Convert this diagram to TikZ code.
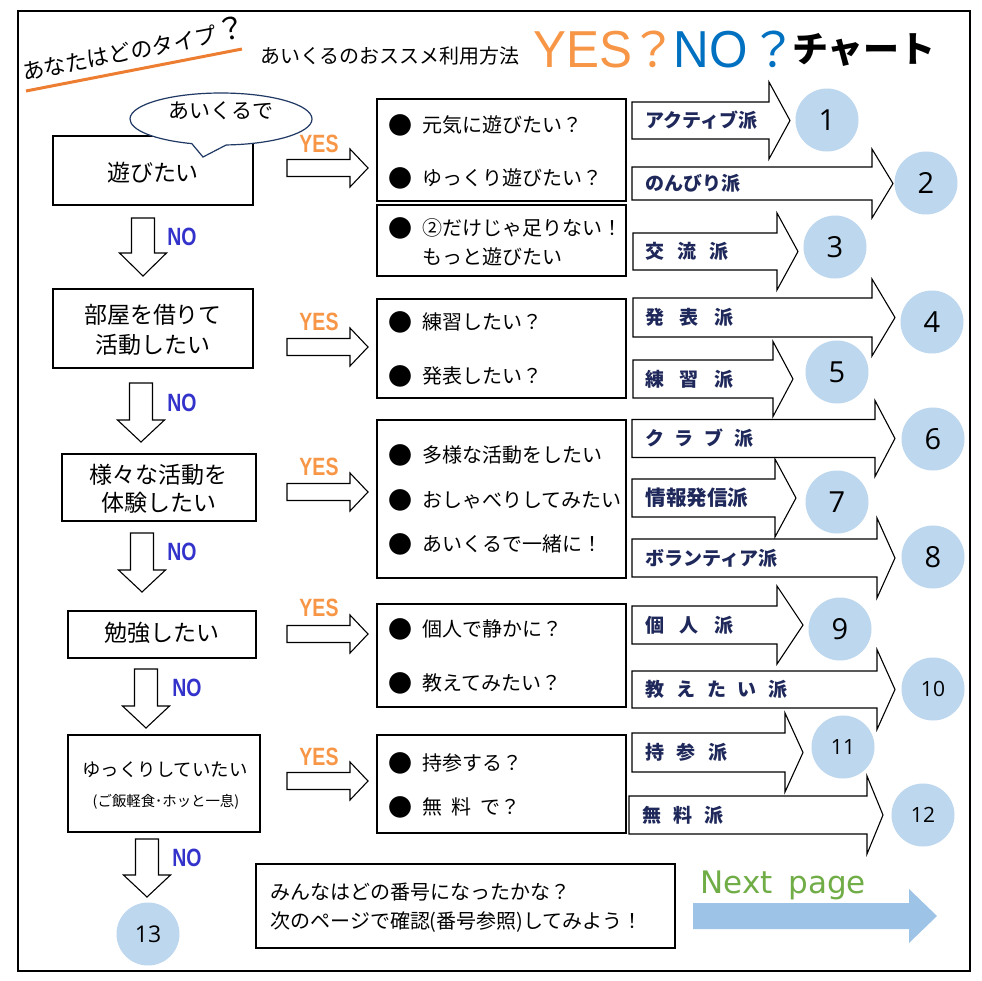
\documentclass[tikz,border=0pt]{standalone}
\usepackage{fontspec}
\setmainfont{Noto Sans CJK JP}
\newfontfamily\latf{Liberation Sans}[FakeStretch=0.95]
\newfontfamily\condf{Liberation Sans}[FakeStretch=0.78]
\newfontfamily\numf{Open Sans}
\newfontfamily\nextf{DejaVu Sans}
\usetikzlibrary{shapes.callouts}
\definecolor{orng}{HTML}{F79646}
\definecolor{tblue}{HTML}{0070C0}
\definecolor{noblue}{HTML}{3333CC}
\definecolor{navy}{HTML}{1F285A}
\definecolor{circ}{HTML}{BDD7EE}
\definecolor{nextgreen}{HTML}{70AD47}
\definecolor{nextblue}{HTML}{9DC3E6}
\definecolor{lineorange}{HTML}{ED7D31}
\definecolor{bubbleline}{HTML}{1F3864}
\newcommand\fs[1]{\fontsize{#1}{#1}\selectfont}
\newcommand\lsp[1]{\hspace{#1pt}}
% right block arrow: x-left, x-head-base, x-tip, y-centre, shaft half, head half
\newcommand\rarr[6]{\draw[barrow] ({#1},{#4-#5}) -- ({#2},{#4-#5}) -- ({#2},{#4-#6}) -- ({#3},{#4}) -- ({#2},{#4+#6}) -- ({#2},{#4+#5}) -- ({#1},{#4+#5}) -- cycle;}
% down block arrow: x-centre, y-top, y-head-base, y-tip, shaft half, head half
\newcommand\darr[6]{\draw[barrow] ({#1-#5},{#2}) -- ({#1+#5},{#2}) -- ({#1+#5},{#3}) -- ({#1+#6},{#3}) -- ({#1},{#4}) -- ({#1-#6},{#3}) -- ({#1-#5},{#3}) -- cycle;}
\begin{document}
\begin{tikzpicture}[x=0.5pt,y=-0.5pt,
  qbox/.style={draw, line width=0.7pt, fill=white, inner sep=0pt},
  qtxt/.style={inner sep=0pt, font=\fs{11.5}},
  itxt/.style={inner sep=0pt, anchor=west, font=\fs{10}},
  bul/.style={inner sep=0pt, font=\fs{12}},
  barrow/.style={draw, line width=0.55pt, fill=white, line join=miter},
  alab/.style={inner sep=0pt, anchor=west, text=navy, font=\bfseries\fs{9.5}},
  numc/.style={circle, fill=circ, inner sep=0pt, minimum size=31.5pt, font=\numf\fs{14.5}},
  numcs/.style={numc, font=\numf\fs{10.5}},
  yeslab/.style={inner sep=0pt, text=orng, font=\condf\bfseries\fs{12.5}},
  nolab/.style={inner sep=0pt, text=noblue, font=\condf\bfseries\fs{12.5}},
]
\fill[white] (0,0) rectangle (982,981);
\useasboundingbox (0,0) rectangle (982,981);
\draw[line width=1.25pt] (18,11) rectangle (970,971);

% ---- title ----
\draw[lineorange, line width=1.5pt] (26,91) -- (242,49);
\node[rotate=11, inner sep=0pt] (ttl) at (134,48) {\fs{11}あなたはどのタイプ\fs{15}？};
\node[inner sep=0pt, font=\fs{10}] (sub) at (390,56) {あいくるのおススメ利用方法};
\node[inner sep=0pt, anchor=base west, text=orng, font=\latf\fs{26}] (yes) at (533,67) {YES};
\node[inner sep=0pt, anchor=base, text=orng, font=\fs{24}] (qa) at (653,67) {？};
\node[inner sep=0pt, anchor=base west, text=tblue, font=\latf\fs{26}] (no) at (673,67) {NO};
\node[inner sep=0pt, anchor=base, text=tblue, font=\fs{24}] (qb) at (773,67) {？};
\node[inner sep=0pt, font=\bfseries\fs{18}] (chart) at (864,50) {チャート};

% ---- left column ----
\node[qbox, minimum width=100pt, minimum height=34.5pt] (b1) at (153,170.5) {};
\node[ellipse callout, draw=bubbleline, line width=0.6pt, fill=white, minimum width=91pt, minimum height=26pt, callout absolute pointer={(203,157)}, callout pointer arc=22] (bub) at (221,119) {};
\node[inner sep=0pt, font=\fs{10.5}] (bubt) at (221,111) {あいくるで};
\node[qtxt] (b1t) at (153,173) {遊びたい};

\node[qbox, minimum width=100pt, minimum height=39.5pt] (b2) at (153,328.5) {};
\node[qtxt] (b2a) at (153,315) {部屋を借りて};
\node[qtxt] (b2b) at (153,345) {活動したい};

\node[qbox, minimum width=97pt, minimum height=33.5pt] (b3) at (159,487.5) {};
\node[qtxt] (b3a) at (159,475) {様々な活動を};
\node[qtxt] (b3b) at (159,503) {体験したい};

\node[qbox, minimum width=94pt, minimum height=23.5pt] (b4) at (162,634.5) {};
\node[qtxt] (b4t) at (162,633) {勉強したい};

\node[qbox, minimum width=96pt, minimum height=48.5pt] (b5) at (164,783.5) {};
\node[inner sep=0pt, font=\fs{9.2}] (b5a) at (165,770) {ゆっくりしていたい};
\node[inner sep=0pt, font=\fs{7.2}] (b5b) at (166,802) {(ご飯軽食･ホッと一息)};

% NO arrows
\darr{143}{218}{253}{276}{11.5}{23.5}
\darr{141}{383}{420}{442}{11.5}{23.5}
\darr{142}{533}{570}{592}{11.5}{23.5}
\darr{146}{669}{706}{728}{11.5}{23.5}
\darr{147}{839}{875}{897}{11.5}{23.5}
\node[nolab] (no1) at (182,237) {NO};
\node[nolab] (no2) at (182,403) {NO};
\node[nolab] (no3) at (182,552) {NO};
\node[nolab] (no4) at (187,688) {NO};
\node[nolab] (no5) at (187,858) {NO};
\node[numc, font=\numf\fs{11.5}] (c13) at (148,934) {13};

% YES arrows
\rarr{287}{350}{368}{168}{8.5}{19}
\rarr{287}{350}{368}{347}{8.5}{19}
\rarr{287}{350}{368}{492}{8.5}{19}
\rarr{287}{350}{368}{634}{8.5}{19}
\rarr{287}{350}{368}{781}{8.5}{19}
\node[yeslab] (y1) at (319,143.5) {YES};
\node[yeslab] (y2) at (319,322) {YES};
\node[yeslab] (y3) at (319,467) {YES};
\node[yeslab] (y4) at (319,608) {YES};
\node[yeslab] (y5) at (319,757) {YES};

% ---- middle boxes ----
\node[qbox, minimum width=124.5pt, minimum height=51pt] (m1) at (501.5,150) {};
\node[bul] (m1ab) at (400,125) {●}; \node[itxt] (m1a) at (422,125) {元気に遊びたい？};
\node[bul] (m1bb) at (400,178) {●}; \node[itxt] (m1b) at (422,178) {ゆっくり遊びたい？};

\node[qbox, minimum width=124.5pt, minimum height=35.5pt] (m2) at (501.5,240.5) {};
\node[bul] (m2ab) at (400,228) {●}; \node[itxt] (m2a) at (422,228) {②だけじゃ足りない！};
\node[itxt] (m2b) at (422,257) {もっと遊びたい};

\node[qbox, minimum width=124.5pt, minimum height=49.5pt] (m3) at (501.5,348.5) {};
\node[bul] (m3ab) at (400,322) {●}; \node[itxt] (m3a) at (422,322) {練習したい？};
\node[bul] (m3bb) at (400,376) {●}; \node[itxt] (m3b) at (422,376) {発表したい？};

\node[qbox, minimum width=124.5pt, minimum height=79pt] (m4) at (501.5,499) {};
\node[bul] (m4ab) at (400,455) {●}; \node[itxt] (m4a) at (422,455) {多様な活動をしたい};
\node[bul] (m4bb) at (400,500) {●}; \node[itxt] (m4b) at (422,500) {おしゃべりしてみたい};
\node[bul] (m4cb) at (400,544) {●}; \node[itxt] (m4c) at (422,544) {あいくるで一緒に！};

\node[qbox, minimum width=124.5pt, minimum height=51.5pt] (m5) at (501.5,655.5) {};
\node[bul] (m5ab) at (400,629) {●}; \node[itxt] (m5a) at (422,629) {個人で静かに？};
\node[bul] (m5bb) at (400,683) {●}; \node[itxt] (m5b) at (422,683) {教えてみたい？};

\node[qbox, minimum width=124.5pt, minimum height=49pt] (m6) at (501.5,784) {};
\node[bul] (m6ab) at (400,763) {●}; \node[itxt] (m6a) at (422,763) {持参する？};
\node[bul] (m6bb) at (400,807) {●}; \node[itxt] (m6b) at (422,807) {無\lsp{4.5}料\lsp{4.5}で？};

% ---- result arrows ----
\rarr{632}{769}{790}{120.5}{18.5}{38.5}
\rarr{632}{872}{893}{183.5}{16.5}{34.5}
\rarr{633}{777}{798}{251.5}{18.5}{38.5}
\rarr{633}{872}{895}{317.5}{19.5}{38.5}
\rarr{633}{773}{793}{379}{19}{37.5}
\rarr{632}{875}{895}{438.5}{19}{38}
\rarr{632}{775}{796}{498}{19}{39}
\rarr{632}{877}{895}{558}{19}{40}
\rarr{632}{777}{803}{625}{19}{39}
\rarr{632}{877}{895}{689.5}{18.5}{40}
\rarr{632}{785}{803}{752.5}{19.5}{39.5}
\rarr{629}{867}{883}{815}{19}{39}

\node[alab] (l1) at (645,120.5) {アクティブ派};
\node[alab] (l2) at (645,183.5) {のんびり派};
\node[alab] (l3) at (645,251.5) {交\lsp{6.5}流\lsp{6.5}派};
\node[alab] (l4) at (645,317.5) {発\lsp{7.7}表\lsp{7.7}派};
\node[alab] (l5) at (645,379) {練\lsp{7.7}習\lsp{7.7}派};
\node[alab] (l6) at (645,438.5) {ク\lsp{5.3}ラ\lsp{5.3}ブ\lsp{5.3}派};
\node[alab, font=\bfseries\fs{10.3}] (l7) at (645,498) {情報発信派};
\node[alab] (l8) at (645,558) {ボランティア派};
\node[alab] (l9) at (645,625) {個\lsp{7.7}人\lsp{7.7}派};
\node[alab] (l10) at (645,689.5) {教\lsp{5.9}え\lsp{5.9}た\lsp{5.9}い\lsp{5.9}派};
\node[alab] (l11) at (645,752.5) {持\lsp{6.2}参\lsp{6.2}派};
\node[alab] (l12) at (642,815) {無\lsp{6}料\lsp{6}派};

\node[numc] (c1) at (827,120) {1};
\node[numc] (c2) at (926,183) {2};
\node[numc] (c3) at (835,247) {3};
\node[numc] (c4) at (932,322) {4};
\node[numc] (c5) at (837,372) {5};
\node[numc] (c6) at (933,439) {6};
\node[numc] (c7) at (837,502) {7};
\node[numc] (c8) at (933,557) {8};
\node[numc] (c9) at (840,629) {9};
\node[numcs] (c10) at (933,689) {10};
\node[numcs] (c11) at (843,747) {11};
\node[numcs] (c12) at (923,815) {12};

% ---- bottom ----
\node[qbox, minimum width=209.5pt, minimum height=42pt] (bot) at (465.5,906) {};
\node[itxt] (bota) at (270,892) {みんなはどの番号になったかな？};
\node[itxt] (botb) at (270,922) {次のページで確認(番号参照)してみよう！};

\fill[nextblue] (693,903) -- (909,903) -- (909,889) -- (937,916) -- (909,943) -- (909,929) -- (693,929) -- cycle;
\node[inner sep=0pt, anchor=base west, text=nextgreen, font=\nextf\fs{15.5}] (next) at (700,893) {Next\lsp{3} page};
\end{tikzpicture}
\end{document}
